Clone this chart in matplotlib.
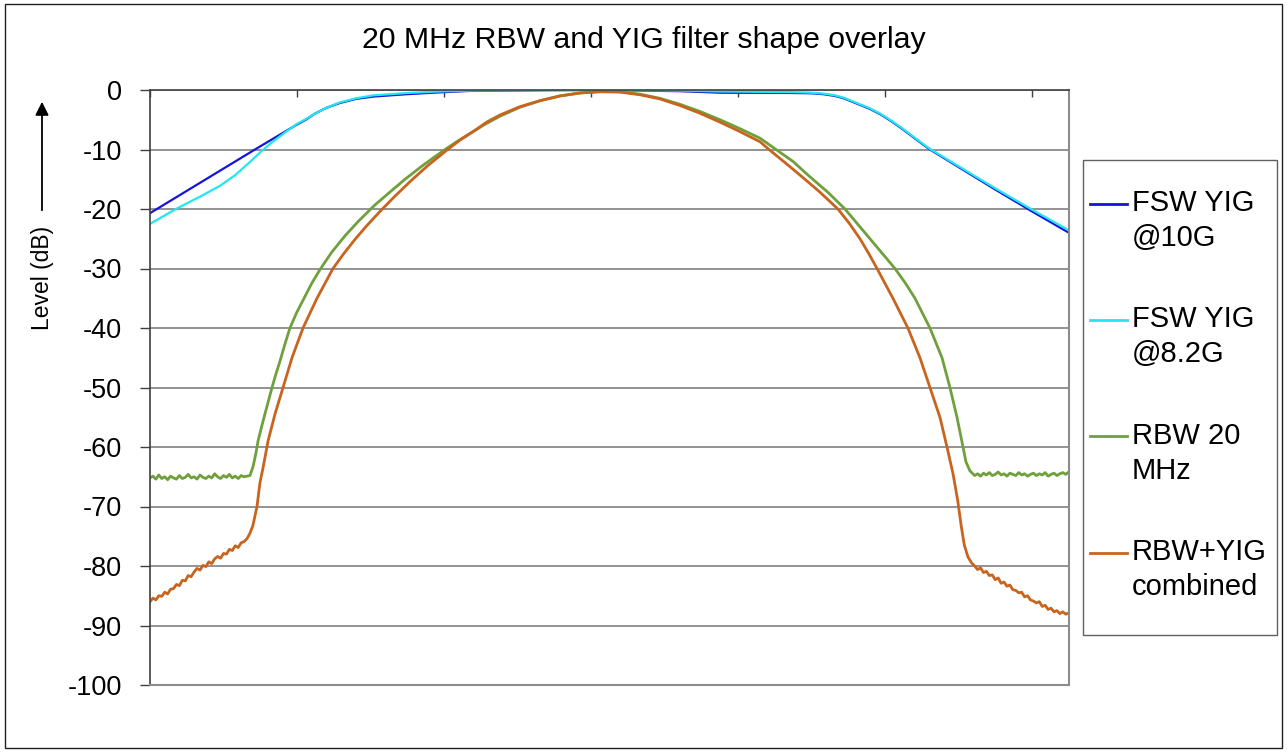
import matplotlib
matplotlib.use("Agg")
import matplotlib.pyplot as plt
from matplotlib.patches import Rectangle
import numpy as np

plt.rcParams['font.family'] = ['Liberation Sans', 'DejaVu Sans']
plt.rcParams['axes.unicode_minus'] = False

W, H = 1287, 752

# x is an unlabelled frequency-offset axis (arbitrary units), y is level in dB
yig10_x = [0, 71.4, 99.3, 106, 112, 120, 129, 140, 152, 175, 197, 217.7, 265.3, 306,
           360.5, 387.8, 435.4, 450, 458, 466, 472, 478, 484, 490, 497, 504, 511, 518, 525,
           530.6, 573.5, 598.6, 625.2]
yig10_y = [-20.7, -10, -5.9, -5.0, -4.0, -3.0, -2.2, -1.5, -1.1, -0.7, -0.4, -0.15, -0.05, 0,
           -0.2, -0.45, -0.5, -0.55, -0.7, -1.0, -1.4, -2.0, -2.6, -3.2, -4.1, -5.2, -6.4, -7.7, -9.0,
           -10, -16.5, -20.2, -24.0]

yig82_x = [0, 18.4, 35, 47.6, 58, 68, 76.2, 84, 92, 100, 106, 112, 120, 129, 140, 152, 175, 197,
           217.7, 265, 306, 360.5, 387.8, 435.4, 450, 458, 466, 472, 478, 484, 490, 497, 504, 511,
           518, 525, 530.6, 573.5, 598.6, 625.2]
yig82_y = [-22.5, -19.9, -17.8, -16.1, -14.3, -12.1, -10.2, -8.6, -7.1, -5.7, -4.9, -4.0, -3.0,
           -2.1, -1.4, -0.9, -0.5, -0.25, -0.1, 0, 0, -0.1, -0.25, -0.35, -0.45, -0.6, -0.9,
           -1.3, -1.9, -2.5, -3.1, -4.0, -5.1, -6.3, -7.6, -8.9, -9.9, -16.3, -19.9, -23.6]

# RBW 20 MHz: noise floor left, main lobe, noise floor right
rbw_floor_l = [-65.2, -64.9, -65.4, -64.7, -65.3, -65.0, -65.5, -64.9, -65.2, -65.4, -64.8, -65.3,
               -65.1, -64.6, -65.2, -65.0, -65.4, -64.7, -65.1, -65.3, -64.9, -65.2, -64.5, -65.0,
               -65.3, -64.8, -65.1, -64.6, -65.2, -64.9, -65.3, -64.8, -65.0, -64.9, -64.8]
rbw_lobe_x = [70.1, 72.1, 73.5, 75.5, 77.6, 80.3, 83.0, 85.7, 88.4, 91.8, 95.2, 99.8, 104.8, 110,
              115.6, 123.5, 132.7, 142, 153.1, 163, 173.5, 186, 200.7, 208, 217.7, 227, 238.1,
              251.7, 265.3, 278.9, 292.5, 306.1, 319.7, 333.3, 346.9, 360.5, 374.1, 387.8, 401.4,
              415.0, 425.9, 437.4, 449.0, 461.2, 472.8, 481.3, 489.8, 498.3, 506.8, 514, 520.4,
              530.6, 538.8, 544.2, 549.0, 553.1, 555.1, 557.8]
rbw_lobe_y = [-63.3, -61, -59, -57, -55, -52.5, -50, -47.7, -45.6, -42.7, -40, -37.4, -35, -32.5,
              -30.2, -27.3, -24.5, -22.0, -19.3, -17.2, -15.0, -12.6, -10, -8.8, -7.3, -5.9, -4.4,
              -2.9, -1.8, -1.0, -0.5, -0.25, -0.3, -0.7, -1.4, -2.4, -3.6, -5.0, -6.5,
              -8.1, -10, -12, -14.6, -17.2, -20, -22.5, -25, -27.5, -30, -32.5, -35,
              -40, -45, -50, -55, -60, -62.5, -64]
rbw_floor_r = [-64.8, -64.5, -64.9, -64.4, -64.7, -64.3, -64.8, -64.6, -64.2, -64.7, -64.5, -64.9,
               -64.4, -64.6, -64.8, -64.3, -64.7, -64.5, -64.9, -64.6, -64.4, -64.8, -64.5, -64.7,
               -64.3, -64.9, -64.6, -64.4, -64.8, -64.5, -64.3, -64.6, -64.2]

# RBW + YIG combined
comb_floor_l = [-86.0, -85.4, -85.7, -85.0, -85.1, -84.4, -84.7, -83.9, -83.8, -83.1, -83.3, -82.4,
                -82.5, -81.6, -81.8, -81.0, -80.4, -80.7, -79.9, -80.1, -79.3, -79.6, -78.8, -78.4,
                -78.7, -77.9, -78.0, -77.2, -77.4, -76.6, -76.9, -76.1, -75.9, -75.4]
comb_lobe_x = [68, 70, 72.8, 74.8, 76.9, 80.3, 85.0, 90.5, 96.6, 104.1, 113.6, 124.5, 131.5, 139.5,
               147.5, 156.5, 166, 176.9, 189, 202, 211, 221, 229, 238.1, 251.7, 265.3, 278.9, 292.5,
               306.1, 319.7, 333.3, 346.9, 360.5, 374.1, 387.8, 401.4, 415, 421.1, 431.5, 442.2, 455,
               468, 476, 483, 489, 494.6, 505.4, 515.6, 523.8, 530.6, 537.4, 542.2, 546.3, 549.5,
               552, 554, 556.5, 559]
comb_lobe_y = [-74.5, -73.2, -70, -66, -63.5, -59, -54.5, -50, -45, -40, -35, -30, -27.6, -25.1,
               -22.8, -20.4, -18.0, -15.4, -12.7, -10.1, -8.4, -6.8, -5.4, -4.2, -2.8, -1.8, -1.0,
               -0.5, -0.3, -0.35, -0.8, -1.5, -2.6, -3.9, -5.4, -7.0, -8.7, -10, -12.1, -14.3, -17,
               -20, -22.5, -25, -27.5, -30, -35, -40, -45, -50, -55, -60, -64.5, -69,
               -73.5, -76.5, -78.5, -79.5]
comb_floor_r = [-80.0, -80.6, -80.3, -81.1, -80.9, -81.6, -81.5, -82.3, -82.0, -82.9, -82.7, -83.4,
                -83.2, -84.0, -84.1, -84.5, -84.4, -85.2, -85.0, -85.7, -85.9, -86.2, -86.0, -86.8,
                -86.6, -87.3, -87.1, -87.7, -87.5, -88.0, -87.7, -88.1, -87.9]

labels = ["FSW YIG\n@10G", "FSW YIG\n@8.2G", "RBW 20\nMHz", "RBW+YIG\ncombined"]
colors = ["#1414DC", "#22E6F0", "#6FA03C", "#C8641E"]
yticks = list(range(-100, 1, 10))

rbw_x = list(np.arange(0, 69, 2)) + rbw_lobe_x + list(np.arange(561, 626, 2))
rbw_y = rbw_floor_l + rbw_lobe_y + rbw_floor_r
comb_x = list(np.arange(0, 67, 2)) + comb_lobe_x + list(np.arange(561, 626, 2))
comb_y = comb_floor_l + comb_lobe_y + comb_floor_r

fig = plt.figure(figsize=(W / 100, H / 100), dpi=100)
ax = fig.add_axes([150 / W, 1 - 685 / H, 919 / W, 595 / H])

series = [(yig10_x, yig10_y), (yig82_x, yig82_y), (rbw_x, rbw_y), (comb_x, comb_y)]
widths = [1.6, 1.6, 2.0, 2.0]
for (xs, ys), lab, c, lw in zip(series, labels, colors, widths):
    ax.plot(xs, ys, color=c, lw=lw, label=lab, solid_joinstyle='round')

ax.set_xlim(0, 625.2)
ax.set_ylim(-100, 0)
ax.set_yticks(yticks)
ax.set_xticks(range(0, 601, 100))
ax.xaxis.set_ticks_position('top')
ax.tick_params(axis='x', direction='in', length=5, width=1, color='#404040', labeltop=False, labelbottom=False)
ax.tick_params(axis='y', direction='out', length=7, width=1, color='#404040', pad=13, labelsize=19.5)
ax.yaxis.grid(True, color='#808080', lw=1.2)
ax.set_axisbelow(True)
for s in ['left', 'top']:
    ax.spines[s].set_color('#404040')
    ax.spines[s].set_linewidth(1.2)
for s in ['right', 'bottom']:
    ax.spines[s].set_color('#8c8c8c')
    ax.spines[s].set_linewidth(1.5)

fig.text(0.5, 1 - 47.7 / H, "20 MHz RBW and YIG filter shape overlay", ha='center', va='baseline', fontsize=21.8)
fig.text(43 / W, 1 - 278 / H, "Level (dB)", rotation=90, ha='center', va='center', fontsize=16.5)
ax.annotate('', xy=(42 / W, 1 - 99 / H), xytext=(42 / W, 1 - 213 / H),
            xycoords='figure fraction', textcoords='figure fraction',
            arrowprops=dict(arrowstyle='-|>', color='black', lw=1.3, mutation_scale=20))

# legend entries, frame drawn separately
leg = fig.legend(loc='upper left', bbox_to_anchor=(1090 / W, 1 - 189 / H), frameon=False,
                 fontsize=21, borderpad=0, borderaxespad=0, handlelength=1.27,
                 handletextpad=0.17, labelspacing=1.83)
for t in leg.get_texts():
    t.set_linespacing(1.32)
for ln in leg.get_lines():
    ln.set_linewidth(2.0)
    ln.set_ydata(np.asarray(ln.get_ydata()) + 12.8)
fig.patches.append(Rectangle((1083 / W, 1 - 635 / H), 194 / W, 475 / H, transform=fig.transFigure,
                             fill=False, edgecolor='#606060', lw=1.0))
fig.patches.append(Rectangle((5 / W, 4 / H), 1277 / W, 744 / H, transform=fig.transFigure,
                             fill=False, edgecolor='#202020', lw=1.0))

fig.savefig("out.png", dpi=100)
